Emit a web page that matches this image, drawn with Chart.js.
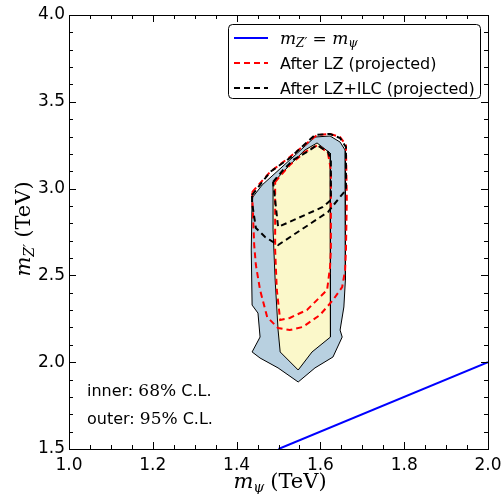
<!DOCTYPE html>
<html>
<head>
<meta charset="utf-8">
<script src="https://cdn.jsdelivr.net/npm/chart.js@4.4.0/dist/chart.umd.min.js"></script>
<style>
html, body { margin: 0; padding: 0; background: #fff; }
</style>
</head>
<body>
<canvas id="grafico" width="504" height="494"></canvas>
<script>
// valores de ejes
const xTickValues = [1.0, 1.2, 1.4, 1.6, 1.8, 2.0];
const yTickValues = [1.5, 2.0, 2.5, 3.0, 3.5, 4.0];
const xMinorStep = 0.05;
const yMinorStep = 0.1;

// contorno exterior (95% C.L.)
const outerX = [1.437, 1.461, 1.527, 1.587, 1.623, 1.647, 1.659, 1.661, 1.659, 1.659, 1.656, 1.647, 1.652, 1.630, 1.587, 1.547, 1.499, 1.456, 1.437, 1.456, 1.451, 1.437, 1.435, 1.437];
const outerY = [2.946, 3.021, 3.165, 3.297, 3.303, 3.268, 3.222, 2.934, 2.646, 2.473, 2.318, 2.185, 2.145, 2.030, 1.967, 1.886, 1.967, 2.024, 2.059, 2.145, 2.283, 2.329, 2.646, 2.946];

// contorno interior (68% C.L.)
const innerX = [1.487, 1.511, 1.527, 1.563, 1.592, 1.623, 1.625, 1.625, 1.623, 1.623, 1.580, 1.547, 1.504, 1.499, 1.492, 1.487, 1.487];
const innerY = [3.032, 3.096, 3.136, 3.222, 3.263, 3.205, 2.934, 2.646, 2.416, 2.145, 2.059, 1.955, 2.059, 2.185, 2.473, 2.762, 3.032];

// After LZ (projected)
const lzOuterX = [1.437, 1.480, 1.527, 1.592, 1.623, 1.647, 1.661, 1.663, 1.661, 1.659, 1.652, 1.630, 1.599, 1.558, 1.527, 1.499, 1.473, 1.456, 1.446, 1.442, 1.437];
const lzOuterY = [2.980, 3.096, 3.182, 3.309, 3.315, 3.297, 3.251, 2.934, 2.646, 2.531, 2.433, 2.358, 2.272, 2.203, 2.185, 2.197, 2.260, 2.416, 2.560, 2.675, 2.980];
const lzInnerX = [1.492, 1.527, 1.563, 1.594, 1.618, 1.625, 1.625, 1.623, 1.616, 1.568, 1.527, 1.504, 1.496, 1.492, 1.492];
const lzInnerY = [3.038, 3.136, 3.211, 3.251, 3.205, 3.107, 2.646, 2.548, 2.416, 2.301, 2.255, 2.243, 2.416, 2.646, 3.038];

// After LZ+ILC (projected)
const ilcOuterX = [1.437, 1.480, 1.527, 1.587, 1.623, 1.647, 1.661, 1.661, 1.647, 1.618, 1.499, 1.468, 1.446, 1.437, 1.437];
const ilcOuterY = [2.963, 3.096, 3.176, 3.309, 3.315, 3.291, 3.240, 2.992, 2.952, 2.865, 2.675, 2.721, 2.773, 2.917, 2.963];
const ilcInnerX = [1.487, 1.511, 1.535, 1.568, 1.592, 1.618, 1.625, 1.625, 1.606, 1.499, 1.492, 1.487];
const ilcInnerY = [3.038, 3.107, 3.165, 3.211, 3.251, 3.211, 3.165, 2.934, 2.894, 2.779, 2.934, 3.038];

// recta m_Z' = m_psi
const lineX = [1.5, 2.0];
const lineY = [1.5, 2.0];

function puntos(xs, ys) {
    return xs.map((x, i) => ({ x: x, y: ys[i] }));
}

const SANS = '"DejaVu Sans", sans-serif';
const SERIF = '"DejaVu Serif", serif';

// dibuja texto con partes de distinta fuente (para las formulas)
function textoRico(ctx, partes, x, y, align) {
    let total = 0;
    partes.forEach(p => { ctx.font = p.f; total += ctx.measureText(p.t).width + (p.gap || 0); });
    let cx = align === 'center' ? x - total / 2 : x;
    ctx.textAlign = 'left';
    ctx.textBaseline = 'alphabetic';
    partes.forEach(p => {
        ctx.font = p.f;
        ctx.fillText(p.t, cx, y + (p.dy || 0));
        cx += ctx.measureText(p.t).width + (p.gap || 0);
    });
}

const decoracion = {
    id: 'decoracion',
    afterDraw(chart) {
        const ctx = chart.ctx;
        const a = chart.chartArea;
        const xs = chart.scales.x, ys = chart.scales.y;
        ctx.save();
        ctx.strokeStyle = '#000';
        ctx.fillStyle = '#000';
        ctx.lineWidth = 1;
        ctx.setLineDash([]);

        // marco
        ctx.strokeRect(a.left + 0.5, a.top + 0.5, a.right - a.left, a.bottom - a.top);

        // ticks hacia dentro
        ctx.beginPath();
        const nx = Math.round((xs.max - xs.min) / xMinorStep);
        for (let i = 0; i <= nx; i++) {
            const v = xs.min + i * xMinorStep;
            const esMayor = xTickValues.some(t => Math.abs(t - v) < 1e-6);
            const len = esMayor ? 7 : 4;
            const px = Math.round(xs.getPixelForValue(v)) + 0.5;
            ctx.moveTo(px, a.bottom); ctx.lineTo(px, a.bottom - len);
            ctx.moveTo(px, a.top); ctx.lineTo(px, a.top + len);
        }
        const ny = Math.round((ys.max - ys.min) / yMinorStep);
        for (let i = 0; i <= ny; i++) {
            const v = ys.min + i * yMinorStep;
            const esMayor = yTickValues.some(t => Math.abs(t - v) < 1e-6);
            const len = esMayor ? 7 : 4;
            const py = Math.round(ys.getPixelForValue(v)) + 0.5;
            ctx.moveTo(a.left, py); ctx.lineTo(a.left + len, py);
            ctx.moveTo(a.right, py); ctx.lineTo(a.right - len, py);
        }
        ctx.stroke();

        // titulos de ejes
        const mathF = 'italic 21px ' + SERIF;
        const romF = '21px ' + SERIF;
        const subF = 'italic 14px ' + SERIF;
        textoRico(ctx, [
            { t: 'm', f: mathF },
            { t: 'ψ', f: subF, dy: 4, gap: 6 },
            { t: '(TeV)', f: romF }
        ], 280, 488, 'center');

        ctx.save();
        ctx.translate(30, 229);
        ctx.rotate(-Math.PI / 2);
        textoRico(ctx, [
            { t: 'm', f: mathF },
            { t: 'Z′', f: subF, dy: 4, gap: 6 },
            { t: '(TeV)', f: romF }
        ], 0, 0, 'center');
        ctx.restore();

        // anotaciones
        const anF = '16px ' + SANS;
        const anM = '17px ' + SERIF;
        textoRico(ctx, [
            { t: 'inner: ', f: anF },
            { t: '68%', f: anM },
            { t: ' C.L.', f: anF }
        ], 87, 396, 'left');
        textoRico(ctx, [
            { t: 'outer: ', f: anF },
            { t: '95%', f: anM },
            { t: ' C.L.', f: anF }
        ], 87, 424, 'left');

        // leyenda
        const lx = 228, ly = 24, lw = 252, lh = 74;
        ctx.beginPath();
        ctx.roundRect(lx + 0.5, ly + 0.5, lw, lh, 4);
        ctx.fillStyle = '#fff';
        ctx.fill();
        ctx.strokeStyle = '#000';
        ctx.stroke();

        const filas = [
            { color: '#0000ff', dash: [], parts: [
                { t: 'm', f: 'italic 17px ' + SERIF },
                { t: 'Z′', f: 'italic 12px ' + SERIF, dy: 3 },
                { t: ' = ', f: '17px ' + SERIF },
                { t: 'm', f: 'italic 17px ' + SERIF },
                { t: 'ψ', f: 'italic 12px ' + SERIF, dy: 3 }
            ] },
            { color: '#ff0000', dash: [6, 4], parts: [{ t: 'After LZ (projected)', f: '16px ' + SANS }] },
            { color: '#000000', dash: [6, 4], parts: [{ t: 'After LZ+ILC (projected)', f: '16px ' + SANS }] }
        ];
        filas.forEach((fila, i) => {
            const cy = 38 + i * 25;
            ctx.beginPath();
            ctx.strokeStyle = fila.color;
            ctx.lineWidth = 2;
            ctx.setLineDash(fila.dash);
            ctx.moveTo(234, cy);
            ctx.lineTo(268, cy);
            ctx.stroke();
            ctx.setLineDash([]);
            ctx.fillStyle = '#000';
            textoRico(ctx, fila.parts, 280, cy + 6, 'left');
        });
        ctx.restore();
    }
};

const ctx = document.getElementById('grafico').getContext('2d');
new Chart(ctx, {
    type: 'scatter',
    data: {
        datasets: [
            {
                label: '95% C.L.',
                data: puntos(outerX, outerY),
                showLine: true, fill: 'shape',
                backgroundColor: '#b8d0e0', borderColor: '#000', borderWidth: 1,
                pointRadius: 0, tension: 0, order: 10
            },
            {
                label: '68% C.L.',
                data: puntos(innerX, innerY),
                showLine: true, fill: 'shape',
                backgroundColor: '#fbf8ca', borderColor: '#000', borderWidth: 1,
                pointRadius: 0, tension: 0, order: 9
            },
            {
                label: 'After LZ (projected)',
                data: puntos(lzOuterX, lzOuterY),
                showLine: true, fill: false,
                borderColor: '#ff0000', borderWidth: 2, borderDash: [6, 4],
                pointRadius: 0, tension: 0, order: 8
            },
            {
                label: 'After LZ (projected) inner',
                data: puntos(lzInnerX, lzInnerY),
                showLine: true, fill: false,
                borderColor: '#ff0000', borderWidth: 2, borderDash: [6, 4],
                pointRadius: 0, tension: 0, order: 7
            },
            {
                label: 'After LZ+ILC (projected)',
                data: puntos(ilcOuterX, ilcOuterY),
                showLine: true, fill: false,
                borderColor: '#000000', borderWidth: 2, borderDash: [6, 4],
                pointRadius: 0, tension: 0, order: 6
            },
            {
                label: 'After LZ+ILC (projected) inner',
                data: puntos(ilcInnerX, ilcInnerY),
                showLine: true, fill: false,
                borderColor: '#000000', borderWidth: 2, borderDash: [6, 4],
                pointRadius: 0, tension: 0, order: 5
            },
            {
                label: "m_Z' = m_psi",
                data: puntos(lineX, lineY),
                showLine: true, fill: false,
                borderColor: '#0000ff', borderWidth: 2,
                pointRadius: 0, tension: 0, order: 4
            }
        ]
    },
    options: {
        responsive: false,
        animation: false,
        devicePixelRatio: 1,
        layout: { padding: { left: 0, top: 15, right: 16, bottom: 0 } },
        plugins: {
            legend: { display: false },
            tooltip: { enabled: false }
        },
        scales: {
            x: {
                type: 'linear', min: 1.0, max: 2.0,
                afterBuildTicks: (s) => { s.ticks = xTickValues.map(v => ({ value: v })); },
                afterFit: (s) => { s.height = 45; s.paddingLeft = 0; s.paddingRight = 0; },
                grid: { display: false, drawTicks: false },
                border: { display: false },
                ticks: {
                    padding: 6, color: '#000',
                    font: { family: SANS, size: 17 },
                    autoSkip: false, maxRotation: 0,
                    callback: (v) => Number(v).toFixed(1)
                }
            },
            y: {
                type: 'linear', min: 1.5, max: 4.0,
                afterBuildTicks: (s) => { s.ticks = yTickValues.map(v => ({ value: v })); },
                afterFit: (s) => { s.width = 69; s.paddingTop = 0; s.paddingBottom = 0; },
                grid: { display: false, drawTicks: false },
                border: { display: false },
                ticks: {
                    padding: 4, color: '#000',
                    font: { family: SANS, size: 17 },
                    autoSkip: false,
                    callback: (v) => Number(v).toFixed(1)
                }
            }
        }
    },
    plugins: [decoracion]
});
</script>
</body>
</html>
